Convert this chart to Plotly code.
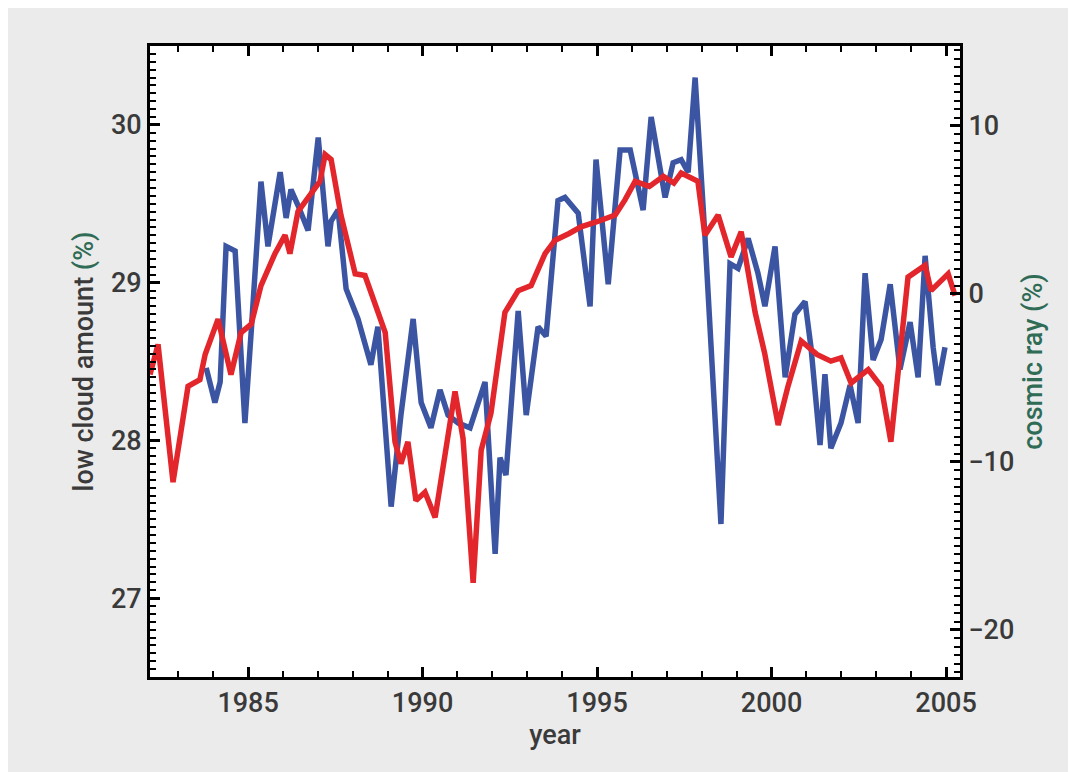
import plotly.graph_objects as go

cloud_year = [1983.80,1984.05,1984.20,1984.37,1984.63,1984.91,1985.09,1985.37,1985.57,1985.92,1986.09,1986.23,1986.43,1986.72,1987.01,1987.29,1987.38,1987.58,1987.81,1988.15,1988.52,1988.72,1989.10,1989.38,1989.73,1989.96,1990.24,1990.50,1990.73,1991.02,1991.36,1991.79,1992.08,1992.22,1992.39,1992.74,1992.97,1993.31,1993.54,1993.88,1994.08,1994.46,1994.80,1994.97,1995.32,1995.66,1995.95,1996.32,1996.55,1996.95,1997.18,1997.41,1997.61,1997.81,1998.09,1998.55,1998.81,1999.04,1999.33,1999.61,1999.81,2000.10,2000.39,2000.67,2000.96,2001.13,2001.39,2001.53,2001.70,2001.99,2002.25,2002.48,2002.68,2002.91,2003.14,2003.40,2003.68,2003.97,2004.20,2004.40,2004.63,2004.77,2004.97]
cloud_val = [28.46,28.24,28.37,29.23,29.20,28.11,28.69,29.64,29.23,29.70,29.41,29.59,29.49,29.33,29.92,29.23,29.39,29.46,28.96,28.77,28.48,28.72,27.58,28.16,28.77,28.24,28.08,28.32,28.16,28.11,28.08,28.37,27.28,27.89,27.78,28.82,28.16,28.72,28.66,29.52,29.54,29.44,28.85,29.78,28.99,29.84,29.84,29.46,30.05,29.54,29.76,29.78,29.70,30.30,29.30,27.47,29.12,29.09,29.28,29.06,28.85,29.23,28.40,28.80,28.88,28.59,27.97,28.42,27.95,28.11,28.35,28.11,29.06,28.51,28.64,28.99,28.45,28.75,28.40,29.17,28.59,28.35,28.59]

cosmic_year = [1982.19,1982.42,1982.85,1983.28,1983.62,1983.77,1984.14,1984.51,1984.80,1985.09,1985.37,1985.77,1986.06,1986.20,1986.43,1986.81,1987.06,1987.21,1987.38,1987.66,1988.07,1988.35,1988.74,1988.93,1989.21,1989.38,1989.58,1989.81,1990.07,1990.36,1990.93,1991.16,1991.45,1991.68,1991.96,1992.36,1992.74,1993.11,1993.51,1993.80,1994.20,1994.54,1995.00,1995.52,1995.80,1996.09,1996.50,1996.90,1997.20,1997.41,1997.89,1998.09,1998.47,1998.84,1999.13,1999.53,1999.80,2000.19,2000.47,2000.85,2001.30,2001.70,2001.99,2002.28,2002.77,2003.14,2003.42,2003.91,2004.40,2004.57,2005.06,2005.26]
cosmic_val = [-4.8,-3.0,-11.2,-5.5,-5.1,-3.6,-1.5,-4.8,-2.3,-1.8,0.5,2.4,3.5,2.4,4.9,6.0,6.7,8.3,8.0,4.7,1.2,1.1,-1.3,-2.3,-8.8,-10.1,-8.8,-12.3,-11.8,-13.3,-5.8,-8.6,-17.2,-9.3,-7.1,-1.1,0.2,0.5,2.4,3.2,3.6,4.0,4.3,4.7,5.6,6.7,6.4,7.0,6.6,7.2,6.7,3.5,4.7,2.2,3.7,-1.1,-3.5,-7.8,-5.5,-2.8,-3.6,-4.0,-3.8,-5.3,-4.5,-5.5,-8.8,1.0,1.7,0.2,1.2,-0.1]

x_ticks = [1985, 1990, 1995, 2000, 2005]
left_ticks = [27, 28, 29, 30]
right_ticks = [-20, -10, 0, 10]

FONT = "Roboto, Arial Narrow, sans-serif"
TXT = "#3a3a3a"
GREEN = "#2f6b55"

fig = go.Figure()
fig.add_trace(go.Scatter(x=cloud_year, y=cloud_val, mode="lines",
                         line=dict(color="#3b55a3", width=5.5), yaxis="y"))
fig.add_trace(go.Scatter(x=cosmic_year, y=cosmic_val, mode="lines",
                         line=dict(color="#e2262b", width=5.5), yaxis="y2"))

tf = dict(family=FONT, size=27, color=TXT, weight=500)
axis_common = dict(showline=True, linecolor="black", linewidth=3, showgrid=False,
                   zeroline=False, ticks="inside", tickcolor="black", tickwidth=3,
                   ticklen=10, tickfont=tf)

fig.update_layout(
    width=1076, height=772, showlegend=False,
    paper_bgcolor="#ebebeb", plot_bgcolor="white",
    margin=dict(l=142, r=124, t=38, b=103),
    font=dict(family=FONT, color=TXT),
    xaxis=dict(**axis_common, range=[1982.19, 2005.4], tickvals=x_ticks,
               mirror="ticks",
               minor=dict(ticks="inside", dtick=1, tick0=1982, ticklen=6, tickwidth=2, tickcolor="black"),
               title=dict(text="year", font=dict(family=FONT, size=27, color=TXT, weight=500), standoff=6)),
    yaxis=dict(**axis_common, range=[26.5, 30.5], tickvals=left_ticks,
               minor=dict(ticks="inside", dtick=0.05, tick0=26.5, ticklen=6, tickwidth=2, tickcolor="black"),
               title=dict(text=f"low cloud amount <span style='color:{GREEN}'>(%)</span>",
                          font=dict(family=FONT, size=27, color=TXT, weight=500), standoff=10)),
    yaxis2=dict(**axis_common, range=[-22.8, 14.76], tickvals=right_ticks,
                ticktext=["\u221220", "\u221210", "0", "10"],
                overlaying="y", side="right",
                minor=dict(ticks="inside", dtick=0.5, tick0=0, ticklen=6, tickwidth=2, tickcolor="black"),
                title=dict(text="cosmic ray (%)",
                           font=dict(family=FONT, size=27, color=GREEN, weight=500), standoff=10)),
)
fig.write_html("out.html")
